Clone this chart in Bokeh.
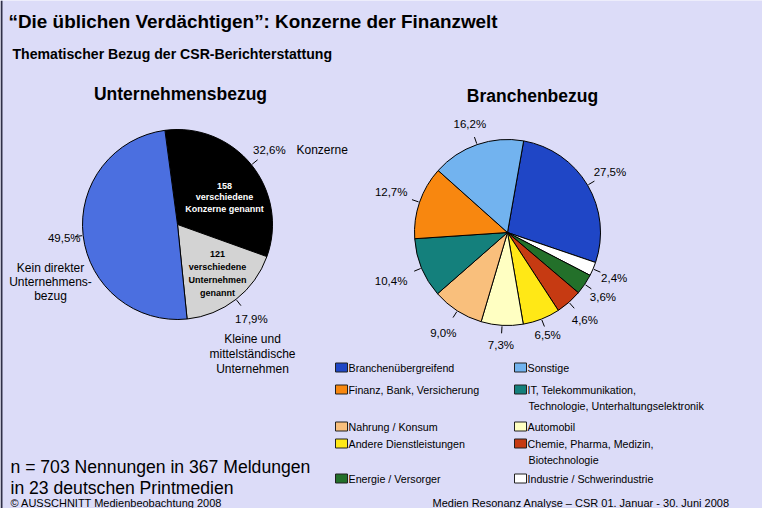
import math
from bokeh.plotting import figure
from bokeh.models import Range1d, Span, ColumnDataSource
from bokeh.core.properties import value
from bokeh.embed import file_html
from bokeh.resources import INLINE

W, H = 762, 508
BG = "#dcdcf8"
FONT = "Liberation Sans"

# ---------------- data ----------------
left_names = ["Konzerne", "Kleine und mittelständische Unternehmen", "Kein direkter Unternehmensbezug"]
left_values = [32.6, 17.9, 49.5]
left_pct = ["32,6%", "17,9%", "49,5%"]
left_colors = ["#000000", "#d3d3d3", "#4b6fe0"]

right_names = ["Branchenübergreifend", "Industrie / Schwerindustrie", "Energie / Versorger",
               "Chemie, Pharma, Medizin, Biotechnologie", "Andere Dienstleistungen", "Automobil",
               "Nahrung / Konsum", "IT, Telekommunikation, Technologie, Unterhaltungselektronik",
               "Finanz, Bank, Versicherung", "Sonstige"]
right_values = [27.5, 2.4, 3.6, 4.6, 6.5, 7.3, 9.0, 10.4, 12.7, 16.2]
right_pct = ["27,5%", "2,4%", "3,6%", "4,6%", "6,5%", "7,3%", "9,0%", "10,4%", "12,7%", "16,2%"]
right_colors = ["#1f46c6", "#ffffff", "#23702a", "#c63a12", "#ffe816", "#ffffc2",
                "#f9bf7c", "#14807c", "#f8870f", "#72b3ef"]

legend_left = [["Branchenübergreifend"], ["Finanz, Bank, Versicherung"], ["Nahrung / Konsum"],
               ["Andere Dienstleistungen"], ["Energie / Versorger"]]
legend_left_colors = ["#1f46c6", "#f8870f", "#f9bf7c", "#ffe816", "#23702a"]
legend_right = [["Sonstige"], ["IT, Telekommunikation,", "Technologie, Unterhaltungselektronik"],
                ["Automobil"], ["Chemie, Pharma, Medizin,", "Biotechnologie"],
                ["Industrie / Schwerindustrie"]]
legend_right_colors = ["#72b3ef", "#14807c", "#ffffc2", "#c63a12", "#ffffff"]

title = "\u201cDie üblichen Verdächtigen\u201d: Konzerne der Finanzwelt"
subtitle = "Thematischer Bezug der CSR-Berichterstattung"
left_title = "Unternehmensbezug"
right_title = "Branchenbezug"
left_desc = [["Konzerne"], ["Kleine und", "mittelständische", "Unternehmen"],
             ["Kein direkter", "Unternehmens-", "bezug"]]
inner_black = ["158", "verschiedene", "Konzerne genannt"]
inner_gray = ["121", "verschiedene", "Unternehmen", "genannt"]
note = ["n = 703 Nennungen in 367 Meldungen", "in 23 deutschen Printmedien"]
footer_left = "© AUSSCHNITT Medienbeobachtung 2008"
footer_right = "Medien Resonanz Analyse \u2013 CSR 01. Januar - 30. Juni 2008"

# ---------------- figure ----------------
p = figure(width=W, height=H, x_range=Range1d(0, W), y_range=Range1d(0, H),
           output_backend="svg", toolbar_location=None, min_border=0,
           background_fill_color=BG, border_fill_color=BG)
p.axis.visible = False
p.grid.visible = False
p.outline_line_color = None


def txt(x, y, s, size, font=FONT, style="normal", color="black", align="left", baseline="middle"):
    p.text(x=[x], y=[H - y], text=[s], text_font=value(font), text_font_size=f"{size}px",
           text_font_style=style, text_color=color, text_align=align, text_baseline=baseline)


def pie(cx, cy, r, vals, colors, start_deg):
    total = sum(vals)
    a = math.radians(start_deg)
    starts, ends, mids = [], [], []
    for v in vals:
        span = 2 * math.pi * v / total
        starts.append(a)
        ends.append(a - span)
        mids.append(a - span / 2)
        a -= span
    src = ColumnDataSource(dict(start=starts, end=ends, color=colors))
    p.wedge(x=cx, y=H - cy, radius=r, start_angle="start", end_angle="end", direction="clock",
            fill_color="color", line_color="black", line_width=1, source=src)
    # leader ticks
    x0 = [cx + (r + 1) * math.cos(m) for m in mids]
    y0 = [H - cy + (r + 1) * math.sin(m) for m in mids]
    x1 = [cx + (r + 8) * math.cos(m) for m in mids]
    y1 = [H - cy + (r + 8) * math.sin(m) for m in mids]
    p.segment(x0=x0, y0=y0, x1=x1, y1=y1, line_color="black", line_width=1)
    return mids


# titles
txt(8, 21, title, 18.9, style="bold", baseline="alphabetic")
txt(12, 53, subtitle, 14.1, style="bold", baseline="alphabetic")
txt(180, 93, left_title, 17.5, style="bold", align="center", baseline="alphabetic")
txt(532, 95, right_title, 17.5, style="bold", align="center", baseline="alphabetic")

# left pie
LCX, LCY, LR = 177, 224, 95
lm = pie(LCX, LCY, LR, left_values, left_colors, 97.6)
lrad = [118, 120, 114]
for m, s, rl in zip(lm, left_pct, lrad):
    txt(LCX + rl * math.cos(m), LCY - rl * math.sin(m), s, 11.5, align="center")
txt(296, 149, left_desc[0][0], 12)
for i, s in enumerate(left_desc[1]):
    txt(252, 338 + 15 * i, s, 12, align="center")
for i, s in enumerate(left_desc[2]):
    txt(50, 267 + 14 * i, s, 12, align="center")
for i, s in enumerate(inner_black):
    txt(LCX + 47, 185 + 11.5 * i, s, 9, style="bold", color="white", align="center")
for i, s in enumerate(inner_gray):
    txt(LCX + 40, 253 + 13 * i, s, 9, style="bold", color="black", align="center")

# right pie
RCX, RCY, RR = 507, 232, 93
rm = pie(RCX, RCY, RR, right_values, right_colors, 80)
rrad = [119, 116, 115, 117, 110, 113, 119, 126, 123, 115]
for m, s, rl in zip(rm, right_pct, rrad):
    txt(RCX + rl * math.cos(m), RCY - rl * math.sin(m), s, 11.5, align="center")

# legend
row_y = [367, 389, 426, 443, 478]
for col_x, items, cols in ((341, legend_left, legend_left_colors), (520, legend_right, legend_right_colors)):
    p.rect(x=[col_x] * len(cols), y=[H - y for y in row_y], width=12, height=9,
           fill_color=cols, line_color="#202020", line_width=1)
    for y, lines in zip(row_y, items):
        for j, s in enumerate(lines):
            txt(col_x + 7 + (1 if j else 0), y + 16 * j, s, 10.7)

# note and footers
txt(10, 466, note[0], 17.6, baseline="alphabetic")
txt(10, 487, note[1], 17.6, baseline="alphabetic")
txt(10, 502, footer_left, 11, baseline="alphabetic")
txt(432, 502, footer_right, 11, baseline="alphabetic")

p.add_layout(Span(location=1, dimension="height", line_color="#303048", line_width=2))

open("out.html", "w").write(file_html(p, INLINE))
